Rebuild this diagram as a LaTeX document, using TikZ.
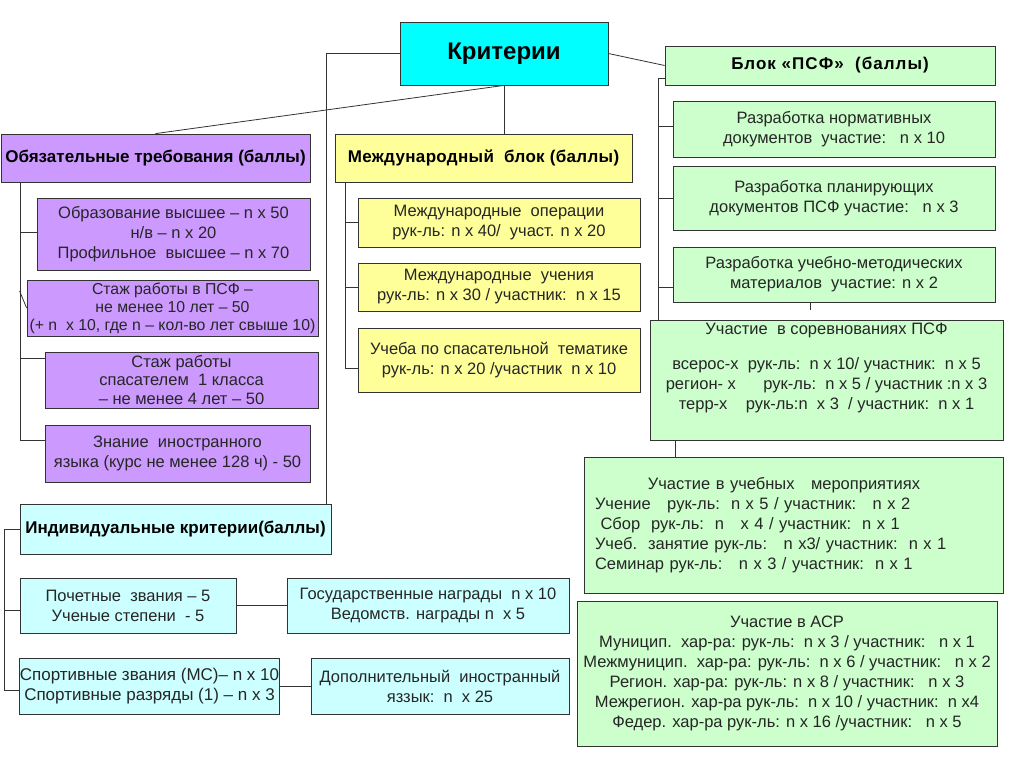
\documentclass[tikz,border=0pt]{standalone}
\usepackage{fontspec}
\setmainfont{Liberation Sans}
\definecolor{critcyan}{RGB}{0,255,255}
\definecolor{lightcyan}{RGB}{204,255,255}
\definecolor{lila}{RGB}{204,153,255}
\definecolor{paleyellow}{RGB}{255,255,153}
\definecolor{palegreen}{RGB}{204,255,204}
\tikzset{
  box/.style={draw=black!80, line width=0.8pt, align=center, inner sep=3pt,
    text=black!85, font=\fontsize{16.5}{20}\selectfont},
  head/.style={box, text=black, font=\bfseries\fontsize{17}{20}\selectfont},
  sz/.style 2 args={minimum width=#1pt, minimum height=#2pt},
  lilabox/.style={fill=lila},
  yelbox/.style={fill=paleyellow},
  greenbox/.style={fill=palegreen},
  cyanbox/.style={fill=lightcyan},
  link/.style={draw=black!80, line width=0.8pt}
}
\begin{document}
\begin{tikzpicture}[x=1pt, y=-1pt]
  \path[fill=white, use as bounding box] (0,0) rectangle (1024,768);
  % top
  \path
    (504,53.5) node[box, sz={208}{63}, fill=critcyan, text=black,
      font=\bfseries\fontsize{24}{28}\selectfont] (crit) {Критерии}
    (830,65.5) node[head, greenbox, sz={330}{39}] (psf)
      {\addfontfeatures{LetterSpace=6}Блок «ПСФ»\ \ (баллы)}
    (155.5,158) node[head, lilabox, sz={309}{48}, inner sep=1pt] (oblig) {Обязательные требования (баллы)}
    (483.5,158) node[head, yelbox, sz={297}{48}] (intl)
      {\addfontfeatures{LetterSpace=2}Международный\ \ блок (баллы)}
    (175.5,529) node[head, cyanbox, sz={311}{50}, inner sep=1pt] (indiv) {Индивидуальные критерии(баллы)};
  % mandatory requirements
  \path
    (173.5,234) node[box, lilabox, sz={273}{72}] (edu)
      {Образование высшее – n x 50\\ н/в – n x 20\\ Профильное\ \ высшее – n x 70}
    (172.5,308) node[box, lilabox, sz={291}{56}, inner sep=0pt,
      font=\fontsize{15.8}{18}\selectfont] (stazh)
      {Стаж работы в ПСФ –\\ не менее 10 лет – 50\\ (+ n\ \ x 10, где n – кол-во лет свыше 10)}
    (181.5,380) node[box, lilabox, sz={273}{56}, font=\fontsize{16.5}{18.5}\selectfont] (spas)
      {Стаж работы\\ спасателем\ \ 1 класса\\ – не менее 4 лет – 50}
    (177.5,453.5) node[box, lilabox, sz={265}{57}, inner sep=0pt] (lang)
      {Знание\ \ иностранного\\ языка (курс не менее 128 ч) - 50};
  % international block
  \path
    (499,222.5) node[box, yelbox, sz={282}{49}] (iops)
      {Международные\ \ операции\\ рук-ль: n x 40/\ \ участ. n x 20}
    (499,287) node[box, yelbox, sz={282}{48}] (iex)
      {Международные\ \ учения\\ рук-ль: n x 30 / участник:\ \ n x 15}
    (499,360) node[box, yelbox, sz={282}{64}] (ucheba)
      {Учеба по спасательной\ \ тематике\\ рук-ль: n x 20 /участник\ \ n x 10};
  % PSF block
  \path
    (834,129) node[box, greenbox, sz={322}{56}] (norm)
      {Разработка нормативных\\ документов\ \ участие:\ \ \ n x 10}
    (834,198) node[box, greenbox, sz={322}{64}] (plan)
      {Разработка планирующих\\ документов ПСФ участие:\ \ \ n x 3}
    (834,274.5) node[box, greenbox, sz={322}{55}] (umet)
      {Разработка учебно-методических\\ материалов\ \ участие: n x 2}
    (826.5,380) node[box, greenbox, sz={353}{120}] (sor)
      {Участие\ \ в соревнованиях ПСФ\\[15pt]
       всерос-х\ \ рук-ль:\ \ n x 10/ участник:\ \ n x 5\\
       регион- х\ \ \ \ \ \ рук-ль:\ \ n x 5 / участник :n x 3\\
       терр-х\ \ \ \ рук-ль:n\ \ x 3\ \ / участник:\ \ n x 1\\[7pt]}
    (793.5,525) node[box, greenbox, sz={419}{136}, inner xsep=11pt,
      text width=397pt, align=left] (uch)
      {\hspace{3.2em}Участие в учебных\ \ \ мероприятиях\\
       Учение\ \ \ рук-ль:\ \ n x 5 / участник:\ \ \ n x 2\\
       \ Сбор\ \ рук-ль:\ \ n\ \ \ x 4 / участник:\ \ n x 1\\
       Учеб.\ \ занятие рук-ль:\ \ \ n x3/ участник:\ \ n x 1\\
       Семинар рук-ль:\ \ \ n x 3 / участник:\ \ n x 1\\[10pt]}
    (787,673.5) node[box, greenbox, sz={420}{145}] (asr)
      {Участие в АСР\\
       Муницип.\ \ хар-ра: рук-ль:\ \ n x 3 / участник:\ \ \ n x 1\\
       Межмуницип.\ \ хар-ра: рук-ль:\ \ n x 6 / участник:\ \ \ n x 2\\
       Регион. хар-ра: рук-ль: n x 8 / участник:\ \ \ n x 3\\
       Межрегион. хар-ра рук-ль:\ \ n x 10 / участник:\ \ n x4\\
       Федер. хар-ра рук-ль: n x 16 /участник:\ \ \ n x 5};
  % individual criteria
  \path
    (128,605.5) node[box, cyanbox, sz={216}{55}] (poch)
      {Почетные\ \ звания – 5\\ Ученые степени\ \ - 5}
    (428,605.5) node[box, cyanbox, sz={282}{55}] (gos)
      {Государственные награды\ \ n x 10\\ Ведомств. награды n\ \ x 5}
    (149.5,686) node[box, cyanbox, sz={259}{56}, inner sep=0pt,
      font=\fontsize{17}{20}\selectfont] (sport)
      {Спортивные звания (МС)– n x 10\\ Спортивные разряды (1) – n x 3}
    (440,686) node[box, cyanbox, sz={258}{56}] (dop)
      {Дополнительный\ \ иностранный\\ яззык:\ \ n\ \ x 25};
  \coordinate (obus) at (20,440);
  \coordinate (ibus) at (345,368);
  \coordinate (pbus) at (658,78);
  \coordinate (dbus) at (4,690);
  \begin{scope}[link]
    \draw (crit.west) -| ([xshift=-5pt]indiv.north east);
    \draw (crit.south) to (oblig.north);
    \draw (crit.south) to (crit.south |- intl.north);
    \draw (crit.east) to (psf.west);
    \draw (obus |- oblig.south) to (obus);
    \draw (obus |- 0,232) to (obus |- 0,232 -| edu.west);
    \draw ([xshift=-7pt,yshift=17pt]stazh.west) to (stazh.west);
    \draw (obus |- 0,358) to (spas.west |- 0,358);
    \draw (obus) to (lang.west |- obus);
    \draw (ibus |- intl.south) to (ibus);
    \draw (ibus |- iops.west) to (iops.west);
    \draw (ibus |- iex.west) to (iex.west);
    \draw (ibus) to (ucheba.west |- ibus);
    \draw (psf.west |- pbus) to (pbus) to (pbus |- sor.north);
    \draw (pbus |- 0,126) to (norm.west |- 0,126);
    \draw (pbus |- plan.west) to (plan.west);
    \draw (pbus |- 0,287) to (umet.west |- 0,287);
    \draw ([xshift=-24pt]umet.south) to ++(0,8);
    \draw ([xshift=-151.5pt]sor.south) to ([xshift=-151.5pt]sor.south |- uch.north);
    \draw (indiv.west) to (indiv.west -| dbus) to (dbus) to (sport.west |- dbus);
    \draw (dbus |- 0,610) to (poch.west |- 0,610);
    \draw (poch.east) to (gos.west);
    \draw (sport.east) to (dop.west);
  \end{scope}
\end{tikzpicture}
\end{document}
